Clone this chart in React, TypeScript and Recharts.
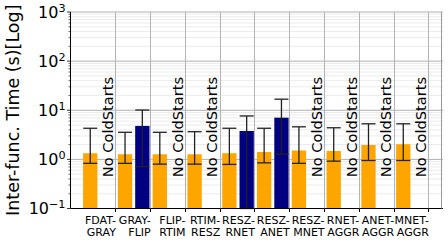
import { BarChart, Bar, XAxis, YAxis, CartesianGrid, ErrorBar, Label } from 'recharts';

const categories = ['FDAT-GRAY', 'GRAY-FLIP', 'FLIP-RTIM', 'RTIM-RESZ', 'RESZ-RNET',
                    'RESZ-ANET', 'RESZ-MNET', 'RNET-AGGR', 'ANET-AGGR', 'MNET-AGGR'];

// warm invocations (orange)
const warm = [1.33, 1.27, 1.27, 1.27, 1.33, 1.42, 1.52, 1.48, 1.96, 2.02];
const warmLow = [0.83, 0.83, 0.80, 0.80, 0.79, 0.85, 0.83, 0.92, 0.95, 0.95];
const warmHigh = [4.3, 3.56, 3.56, 3.66, 4.3, 4.3, 4.6, 4.4, 5.3, 5.3];

// cold starts (navy), null = none
const cold = [null, 4.8, null, null, 3.78, 7.06, null, null, null, null];
const coldLow = [null, 0.71, null, null, 0.1, 1.28, null, null, null, null];
const coldHigh = [null, 10.1, null, null, 7.65, 16.8, null, null, null, null];

const majorTicks = [0.1, 1, 10, 100, 1000];
const exponents = ['\u22121', '0', '1', '2', '3'];
const minorTicks = [0.1, 1, 10, 100].flatMap((d) => [2, 3, 4, 5, 6, 7, 8, 9].map((m) => m * d));

const NO_COLD_BASE = 0.435; // where the "No ColdStarts" text starts

const data = categories.map((name, i) => ({
  name,
  warm: warm[i],
  warmErr: [warm[i] - warmLow[i], warmHigh[i] - warm[i]],
  cold: cold[i],
  coldShown: cold[i] ?? NO_COLD_BASE,
  coldErr: cold[i] == null ? null : [cold[i] - coldLow[i], coldHigh[i] - cold[i]],
}));

const W = 448;
const H = 244;
const TOP = 12;
const BOTTOM = 5.5;
const X_AXIS_H = 30;
const LEFT = 70.5;
const RIGHT = 5;
const PAD_L = 10.6;
const PAD_R = 14.1;
const BAND = (W - LEFT - RIGHT - PAD_L - PAD_R) / categories.length;
const PLOT_H = H - TOP - BOTTOM - X_AXIS_H;
const FONT = 'DejaVu Sans';

const XTick = (props: any) => {
  const { x, y, payload, index } = props;
  const right = Number(x) + BAND / 2;
  const gx = Math.floor(right);
  const base = Number(y);
  const [a, b] = String(payload.value).split('-');
  const last = index === categories.length - 1;
  return (
    <g>
      <rect x={gx} y={base - PLOT_H} width={1} height={PLOT_H} fill="#b4b4b4" />
      {last && (
        <rect x={Math.floor(right + PAD_R) - 1} y={base - PLOT_H} width={1} height={PLOT_H} fill="#999" />
      )}
      <rect x={gx} y={base} width={1} height={3.5} fill="#000" />
      <text x={right} y={base} textAnchor="end" fontSize={11} fontFamily={FONT} fill="#000">
        <tspan x={right} dy={15.8}>{a}-</tspan>
        <tspan x={right} dy={11.4}>{b}</tspan>
      </text>
    </g>
  );
};

const YTick = (props: any) => {
  const { x, y, payload } = props;
  const idx = majorTicks.indexOf(payload.value);
  if (idx < 0) {
    return <line x1={x - 2} x2={x} y1={y} y2={y} stroke="#000" strokeWidth={0.6} />;
  }
  return (
    <g>
      <line x1={x - 3.5} x2={x} y1={y} y2={y} stroke="#000" strokeWidth={0.8} />
      <text x={x - 5} y={y + 5.8} textAnchor="end" fontSize={16} fontFamily={FONT} fill="#000">
        <tspan>10</tspan>
        <tspan dy={-6} fontSize={11.2}>{exponents[idx]}</tspan>
      </text>
    </g>
  );
};

const ColdShape = (props: any) => {
  const { x, y, width, height, payload, fill } = props;
  if (payload.cold == null) {
    const cx = x + width / 2;
    return (
      <text x={cx} y={y} transform={`rotate(-90 ${cx} ${y})`} dominantBaseline="central"
            fontSize={14.6} fontFamily={FONT} fill="#000">No ColdStarts</text>
    );
  }
  return <rect x={x} y={y} width={width} height={height} fill={fill} />;
};

export default function App() {
  return (
    <div style={{ position: 'absolute', left: 0, top: 0 }}>
      <BarChart width={W} height={H} data={data} barSize={14.3} barGap={3}
                margin={{ top: TOP, right: RIGHT, bottom: BOTTOM, left: 7.5 }}>
        <CartesianGrid vertical={false} horizontalValues={minorTicks} stroke="#e6e6e6" strokeWidth={0.8} />
        <CartesianGrid vertical={false} horizontalValues={majorTicks} stroke="#b0b0b0" strokeWidth={1} />
        <XAxis dataKey="name" type="category" height={X_AXIS_H} padding={{ left: PAD_L, right: PAD_R }}
               interval={0} tickLine={false} tickSize={0} tickMargin={0}
               axisLine={{ stroke: '#000', strokeWidth: 1 }} tick={<XTick />} />
        <YAxis scale="log" type="number" domain={[0.1, 1000]} allowDataOverflow width={63}
               ticks={[...majorTicks, ...minorTicks]} interval={0} tickLine={false} tickSize={0} tickMargin={0}
               axisLine={{ stroke: '#000', strokeWidth: 1 }} tick={<YTick />}>
          <Label content={() => (
            <text x={18.5} y={110.25} transform="rotate(-90 18.5 110.25)" textAnchor="middle"
                  fontSize={17.5} fontFamily={FONT} fill="#000">Inter-func. Time (s)[Log]</text>
          )} />
        </YAxis>
        <Bar dataKey="warm" fill="#FFA500" isAnimationActive={false}>
          <ErrorBar dataKey="warmErr" direction="y" width={7} stroke="#222" strokeWidth={1.3} />
        </Bar>
        <Bar dataKey="coldShown" fill="#000080" shape={ColdShape} isAnimationActive={false}>
          <ErrorBar dataKey="coldErr" direction="y" width={7} stroke="#222" strokeWidth={1.3} />
        </Bar>
      </BarChart>
    </div>
  );
}
